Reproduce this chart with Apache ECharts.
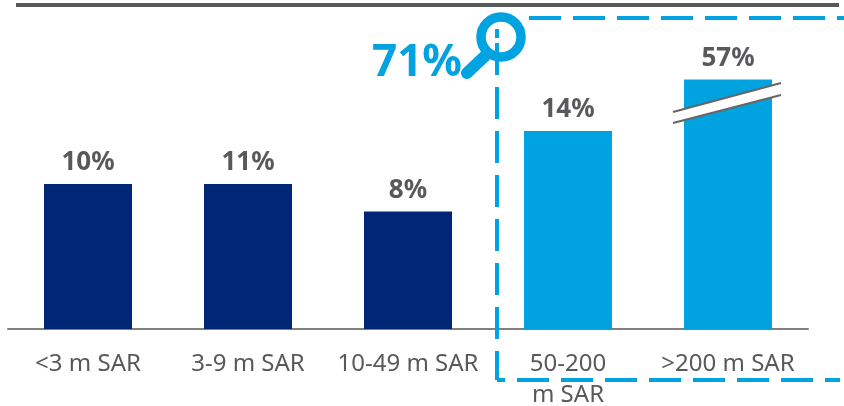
<!DOCTYPE html>
<html>
<head>
<meta charset="utf-8">
<title>SAR</title>
<script src="https://cdn.jsdelivr.net/npm/echarts@6/dist/echarts.min.js"></script>
<style>
  html,body{margin:0;padding:0;background:#fff;}
  #main{width:844px;height:406px;}
</style>
</head>
<body>
<div id="main"></div>
<script>
  // bar lengths as drawn: the last bar is cut by the axis break, so it is not to scale
  var categories = ['<3 m SAR', '3-9 m SAR', '10-49 m SAR', '50-200\nm SAR', '>200 m SAR'];
  var barValues = [10, 10, 8.1, 13.65, 17.2];
  var barLabels = ['10%', '11%', '8%', '14%', '57%'];
  var barColors = ['#002776', '#002776', '#002776', '#00a3e0', '#00a3e0'];

  var grey = '#58595b';
  var blue = '#00a3e0';
  var font = '"Noto Sans"';

  var chart = echarts.init(document.getElementById('main'), null, {renderer: 'canvas'});

  function dash(x1, y1, x2, y2, offset) {
    return {
      type: 'line',
      z: 100,
      shape: {x1: x1, y1: y1, x2: x2, y2: y2},
      style: {stroke: blue, lineWidth: 4, lineDash: [32, 12], lineDashOffset: offset}
    };
  }

  chart.setOption({
    animation: false,
    grid: {left: 8, right: 36, top: 39, bottom: 77, outerBoundsMode: 'none'},
    xAxis: {
      type: 'category',
      data: categories,
      axisTick: {show: false},
      axisLine: {lineStyle: {color: '#808080', width: 2}},
      axisLabel: {
        color: grey,
        fontFamily: font,
        fontSize: 24,
        lineHeight: 31,
        margin: 20,
        interval: 0
      }
    },
    yAxis: {type: 'value', min: 0, max: 20, show: false},
    series: [{
      type: 'bar',
      barWidth: 88,
      data: barValues.map(function (v, i) {
        return {value: v, itemStyle: {color: barColors[i]}};
      }),
      label: {
        show: true,
        position: 'top',
        distance: 8,
        color: grey,
        fontFamily: font,
        fontWeight: 'bold',
        fontSize: 26,
        formatter: function (p) { return barLabels[p.dataIndex]; }
      }
    }],
    graphic: [
      // top rule
      {type: 'rect', z: 100, shape: {x: 16, y: 3, width: 823, height: 4}, style: {fill: grey}},
      // dashed box
      dash(529, 18, 844, 18, 0),
      dash(497, 29, 497, 38, 0),
      dash(497, 43, 497, 380, 0),
      dash(497, 380, 840, 380, 24),
      // axis break
      {type: 'polygon', z: 100, shape: {points: [[673, 112], [781, 83], [781, 95], [673, 123]]}, style: {fill: '#fff'}},
      {type: 'line', z: 101, shape: {x1: 673, y1: 112, x2: 781, y2: 83}, style: {stroke: '#666', lineWidth: 2}},
      {type: 'line', z: 101, shape: {x1: 673, y1: 123, x2: 781, y2: 95}, style: {stroke: '#666', lineWidth: 2}},
      // magnifier
      {type: 'circle', z: 100, shape: {cx: 501, cy: 37, r: 20}, style: {fill: 'transparent', stroke: blue, lineWidth: 9.5}},
      {type: 'line', z: 100, shape: {x1: 486, y1: 55, x2: 467, y2: 73}, style: {stroke: blue, lineWidth: 12, lineCap: 'round'}},
      {type: 'text', z: 100, style: {x: 417, y: 63, text: '71%', fill: blue, font: 'bold 44px ' + font, textAlign: 'center', textVerticalAlign: 'middle'}}
    ]
  });
</script>
</body>
</html>
